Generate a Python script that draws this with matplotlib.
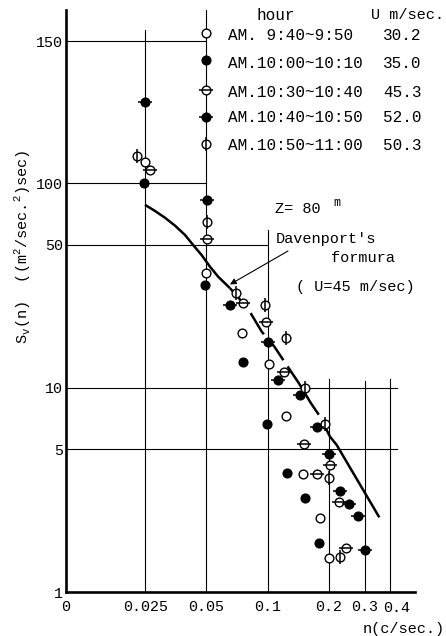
import numpy as np
import matplotlib
matplotlib.use("Agg")
import matplotlib.pyplot as plt
from matplotlib.ticker import FixedLocator, FixedFormatter, NullLocator
import matplotlib.transforms as mtransforms

plt.rcParams['font.family'] = ['Liberation Mono', 'DejaVu Sans']

# ---------------- data ----------------
# AM. 9:40~9:50  U=30.2  (open circle)
s1_x = [0.0250, 0.0497, 0.0745, 0.1011, 0.1225, 0.1485, 0.1807, 0.2007]
s1_y = [107.6, 36.3, 18.6, 13.0, 7.24, 3.78, 2.30, 1.46]
# AM.10:00~10:10  U=35.0  (filled circle)
s2_x = [0.0247, 0.0492, 0.0753, 0.0988, 0.1244, 0.1519, 0.1786]
s2_y = [100.0, 31.8, 13.3, 6.66, 3.81, 2.87, 1.74]
# AM.10:30~10:40  U=45.3  (open circle, horizontal bar)
s3_x = [0.0264, 0.0501, 0.0753, 0.0980, 0.1202, 0.1502, 0.1746, 0.2016, 0.2247, 0.2419]
s3_y = [104.7, 53.2, 25.9, 21.0, 11.9, 5.33, 3.78, 4.18, 2.77, 1.64]
# AM.10:40~10:50  U=52.0  (filled circle, horizontal bar)
s4_x = [0.0250, 0.0501, 0.0652, 0.0999, 0.1127, 0.1445, 0.1740, 0.1994, 0.2265, 0.2517, 0.2768, 0.2993]
s4_y = [128.5, 82.9, 25.4, 16.7, 10.9, 9.16, 6.42, 4.75, 3.12, 2.71, 2.35, 1.60]
# AM.10:50~11:00  U=50.3  (open circle, vertical bar)
s5_x = [0.0228, 0.0501, 0.0698, 0.0972, 0.1229, 0.1519, 0.1918, 0.2007, 0.2273]
s5_y = [109.6, 64.9, 29.0, 25.4, 17.6, 10.0, 6.66, 3.63, 1.48]

# Davenport's formula curve (U=45 m/sec)
dav_x = [0.02492, 0.0279, 0.03124, 0.0350, 0.0392, 0.0430, 0.0473, 0.0520, 0.0571,
         0.0652, 0.0797, 0.0934, 0.1077, 0.1239, 0.1424, 0.1631, 0.1786, 0.2023,
         0.2183, 0.3535]
dav_y = [78.5, 73.3, 67.9, 62.1, 55.9, 49.9, 44.6, 39.1, 34.9,
         30.7, 24.5, 18.8, 15.9, 12.9, 10.5, 8.39, 7.35, 5.76,
         5.24, 2.32]

legend_hours = ["AM. 9:40~9:50", "AM.10:00~10:10", "AM.10:30~10:40",
                "AM.10:40~10:50", "AM.10:50~11:00"]
legend_u = ["30.2", "35.0", "45.3", "52.0", "50.3"]
legend_kinds = ["open", "filled", "open_h", "filled_h", "open_v"]

x_ticks = [0.01016, 0.025, 0.05, 0.1, 0.2, 0.3, 0.4]
x_ticklabels = ["0", "0.025", "0.05", "0.1", "0.2", "0.3", "0.4"]
y_ticks = [1, 5, 10, 50, 100, 150]
y_ticklabels = ["1", "5", "10", "50", "100", "150"]

# ---------------- figure ----------------
W, H = 446, 636
fig = plt.figure(figsize=(W / 100, H / 100), dpi=100)
fig.patch.set_facecolor('white')

def fx(px):
    return px / W

def fy(py):
    return 1 - py / H

ax = fig.add_axes([fx(65.7), fy(592), (415 - 65.7) / W, 582 / H])

# y scale: log up to 100, stretched above 100 (as in the original figure)
K = 0.6966 / 50.0

def fwd(y):
    y = np.asarray(y, dtype=float)
    ly = np.log10(np.clip(y, 1e-12, None))
    return np.where(y <= 100, ly, 2 + (y - 100) * K)

def inv(v):
    v = np.asarray(v, dtype=float)
    return np.where(v <= 2, 10 ** np.minimum(v, 2), 100 + (v - 2) / K)

ax.set_xscale('log')
ax.set_yscale('function', functions=(fwd, inv))
ax.set_xlim(0.01016, 0.5295)
ax.set_ylim(1, 160.9)

# the last x label (0.4) sits right of its line in the original -> drawn separately
ax.xaxis.set_major_locator(FixedLocator(x_ticks))
ax.xaxis.set_major_formatter(FixedFormatter(x_ticklabels[:-1] + [""]))
ax.xaxis.set_minor_locator(NullLocator())
ax.yaxis.set_major_locator(FixedLocator(y_ticks))
ax.yaxis.set_major_formatter(FixedFormatter(y_ticklabels))
ax.yaxis.set_minor_locator(NullLocator())
ax.tick_params(axis='both', length=0, labelsize=10.8, colors='black')
ax.tick_params(axis='x', pad=6)
ax.tick_params(axis='y', pad=2)
lab_tr = mtransforms.blended_transform_factory(ax.transData, fig.transFigure)
ax.text(x_ticks[-1] * 1.075, fy(607.5), x_ticklabels[-1], transform=lab_tr,
        fontsize=10.8, ha='center', va='center', clip_on=False)

for s in ['top', 'right']:
    ax.spines[s].set_visible(False)
for s in ['left', 'bottom']:
    ax.spines[s].set_linewidth(1.9)
    ax.spines[s].set_zorder(5)

xl = 0.01016
gl = dict(color='black', lw=0.8, zorder=1)
# vertical grid lines
ax.plot([0.025, 0.025], [1, 153.7], **gl)
ax.plot([0.05, 0.05], [1, 160.9], **gl)
ax.plot([0.1, 0.1], [1, 59.1], **gl)
ax.plot([0.2, 0.2], [1, 11.0], **gl)
ax.plot([0.3, 0.3], [1, 10.8], **gl)
ax.plot([0.4, 0.4], [1, 11.0], **gl)
# horizontal grid lines
ax.plot([xl, 0.05], [150, 150], **gl)
ax.plot([xl, 0.05], [100, 100], **gl)
ax.plot([xl, 0.1], [50, 50], **gl)
ax.plot([xl, 0.4305], [10, 10], **gl)
ax.plot([xl, 0.4305], [5, 5], **gl)

# Davenport curve: solid, dashed middle, solid tail
ax.plot(dav_x[:10], dav_y[:10], color='black', lw=1.8, zorder=2,
        solid_capstyle='butt', solid_joinstyle='round')
ax.plot(dav_x[9:18], dav_y[9:18], color='black', lw=1.8, zorder=2,
        dashes=(10, 3), dash_capstyle='butt')
ax.plot(dav_x[17:], dav_y[17:], color='black', lw=1.8, zorder=2, solid_capstyle='butt')

MS = 6.3
BAR = 10
def draw(xs, ys, kind, transform=None, clip=True):
    kw = {} if transform is None else {'transform': transform}
    filled = kind.startswith('filled')
    ax.plot(xs, ys, ls='none', marker='o', ms=MS, mew=1.0, mec='black',
            mfc='black' if filled else 'white', zorder=3, clip_on=clip, **kw)
    if kind.endswith('_h'):
        ax.plot(xs, ys, ls='none', marker='_', ms=BAR, mew=1.1, color='black',
                zorder=4, clip_on=clip, **kw)
    if kind.endswith('_v'):
        ax.plot(xs, ys, ls='none', marker='|', ms=BAR, mew=1.1, color='black',
                zorder=4, clip_on=clip, **kw)

for xs, ys, kind in [(s1_x, s1_y, 'open'), (s2_x, s2_y, 'filled'),
                     (s3_x, s3_y, 'open_h'), (s4_x, s4_y, 'filled_h'),
                     (s5_x, s5_y, 'open_v')]:
    draw(xs, ys, kind)

# legend (markers on the 0.05 line, text to the right)
blend = mtransforms.blended_transform_factory(ax.transData, ax.transAxes)
leg_marker_py = [32.7, 60.3, 90.0, 116.7, 144.0]
leg_text_py = [36.0, 63.3, 92.7, 117.3, 145.7]
for i, kind in enumerate(legend_kinds):
    yfrac = (592 - leg_marker_py[i]) / 582
    draw([0.05], [yfrac], kind, transform=blend, clip=False)
    fig.text(fx(228), fy(leg_text_py[i]), legend_hours[i], fontsize=11.5,
             ha='left', va='center')
    fig.text(fx(383), fy(leg_text_py[i]), legend_u[i], fontsize=11.5,
             ha='left', va='center')
fig.text(fx(257), fy(15.3), "hour", fontsize=11.5, ha='left', va='center')
fig.text(fx(444), fy(15.3), "U m/sec.", fontsize=11, ha='right', va='center')

# annotations
fig.text(fx(275), fy(209.3), "Z= 80", fontsize=11, ha='left', va='center')
fig.text(fx(333), fy(202.5), "m", fontsize=8.5, ha='left', va='center')
fig.text(fx(275.3), fy(239.3), "Davenport's", fontsize=11, ha='left', va='center')
fig.text(fx(330.7), fy(258.3), "formura", fontsize=11, ha='left', va='center')
fig.text(fx(296), fy(287.3), "( U=45 m/sec)", fontsize=11, ha='left', va='center')
ax.annotate("", xy=(0.0652, 32.0), xycoords='data',
            xytext=(fx(288), fy(251)), textcoords='figure fraction',
            arrowprops=dict(arrowstyle='-|>', color='black', lw=0.8,
                            mutation_scale=9, shrinkA=0, shrinkB=0), zorder=6)

# axis labels
fig.text(fx(23), fy(247), r"S$_\mathregular{v}$(n)  ((m$^\mathregular{2}$/sec.$^\mathregular{2}$)sec)",
         fontsize=11, rotation=90, ha='center', va='center')
fig.text(fx(445), fy(629), "n(c/sec.)", fontsize=11, ha='right', va='center')

fig.savefig("out.png", dpi=100, facecolor='white')
